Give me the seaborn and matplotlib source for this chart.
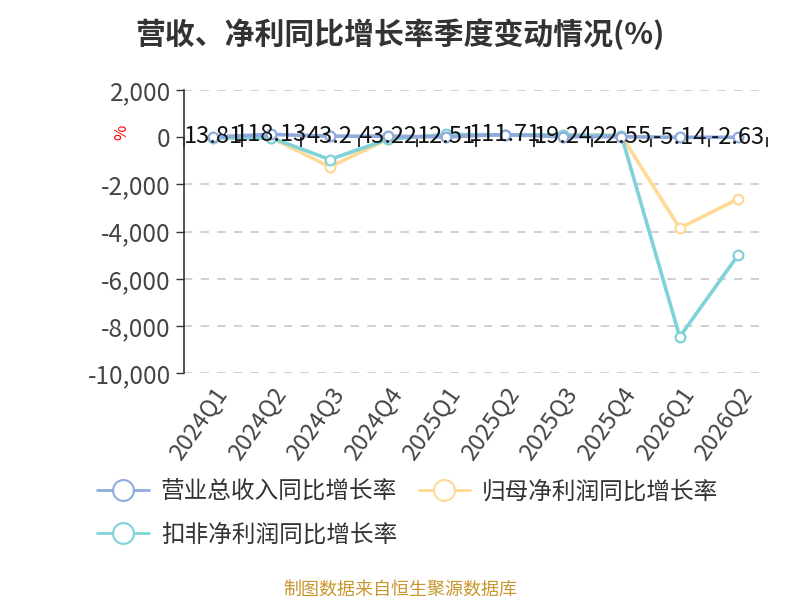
import numpy as np
import pandas as pd
import matplotlib
matplotlib.use('Agg')
import matplotlib.pyplot as plt
import seaborn as sns
from matplotlib.lines import Line2D

quarters = ['2024Q1', '2024Q2', '2024Q3', '2024Q4', '2025Q1', '2025Q2',
            '2025Q3', '2025Q4', '2026Q1', '2026Q2']
revenue_yoy = [13.81, 118.13, 43.2, 43.22, 12.51, 111.71, 19.24, 22.55, -5.14, -2.63]
net_profit_yoy = [-20, -30, -1258, -80, 110, 95, 100, 70, -3856, -2614]
deducted_profit_yoy = [-30, -30, -945, -85, 115, 100, 100, 70, -8460, -5000]

series_names = ['营业总收入同比增长率', '归母净利润同比增长率', '扣非净利润同比增长率']
series_colors = ['#8FAADC', '#FFD996', '#7FD3D8']

sns.set_theme(style='white')
plt.rcParams['font.family'] = ['Noto Sans CJK SC', 'DejaVu Sans']
plt.rcParams['axes.unicode_minus'] = False

fig = plt.figure(figsize=(8, 6), dpi=100)
ax = fig.add_axes([0.23, 0.378, 0.729, 0.472])

idx = np.arange(len(quarters))
# draw back to front: deducted, net, revenue
for name, vals, col, z in [(series_names[2], deducted_profit_yoy, series_colors[2], 3),
                           (series_names[1], net_profit_yoy, series_colors[1], 2),
                           (series_names[0], revenue_yoy, series_colors[0], 4)]:
    df = pd.DataFrame({'x': idx, 'y': vals})
    sns.lineplot(data=df, x='x', y='y', ax=ax, color=col, linewidth=2.6,
                 marker='o', markersize=7, markerfacecolor='white',
                 markeredgecolor=col, markeredgewidth=1.6, zorder=z, sort=False)

# revenue value labels (they overlap in the original too)
for i, v in enumerate(revenue_yoy):
    ax.text(i, v, f'{v:g}', ha='center', va='center', fontsize=17,
            color='#111111', zorder=6)

ax.set_xlim(-0.5, len(quarters) - 0.5)
ax.set_ylim(-10000, 2000)
yticks = np.arange(-10000, 2001, 2000)
ax.set_yticks(yticks)
ax.set_yticklabels([f'{t:,}' for t in yticks], fontsize=17.5, color='#444444')
for t in yticks:
    if t != 0:
        ax.axhline(t, color='#C8C8C8', linestyle=(0, (5, 5)), linewidth=1.2, zorder=0)

ax.set_xticks(idx)
ax.set_xticklabels(quarters, rotation=55, ha='right', rotation_mode='anchor',
                   fontsize=17, color='#444444')
ax.tick_params(axis='x', length=0, pad=7)
ax.tick_params(axis='y', length=6, width=1, color='#333333', direction='out', left=True)
ax.set_xlabel('')
ax.set_ylabel('')

for s in ['top', 'right', 'bottom']:
    ax.spines[s].set_visible(False)
ax.spines['left'].set_color('#333333')
ax.spines['left'].set_linewidth(1.2)

# zero axis line with category boundary ticks
zero_pos = (0 - ax.get_ylim()[0]) / (ax.get_ylim()[1] - ax.get_ylim()[0])
sec = ax.secondary_xaxis(zero_pos)
sec.set_xticks(np.arange(len(quarters) + 1) - 0.5)
sec.set_xticklabels([])
sec.tick_params(axis='x', direction='out', length=7, width=1.2, color='#111111')
sec.spines['bottom'].set_color('#111111')
sec.spines['bottom'].set_linewidth(1.2)
sec.spines['top'].set_visible(False)
sec.xaxis.set_ticks_position('bottom')

fig.text(0.152, 0.78, '%', color='red', fontsize=12, rotation=90, ha='center', va='center')

fig.suptitle('营收、净利同比增长率季度变动情况(%)', x=0.5, y=0.97, fontsize=21.5,
             fontweight='bold', color='#333333')

handles = [Line2D([0], [0], color=c, linewidth=2, marker='o', markersize=15,
                  markerfacecolor='white', markeredgecolor=c, markeredgewidth=1.5)
           for c in series_colors]
# matplotlib fills columns first; reorder so rows read revenue, net / deducted
order = [0, 2, 1]
fig.legend([handles[i] for i in order], [series_names[i] for i in order],
           loc='upper left', bbox_to_anchor=(0.095, 0.235),
           ncol=2, frameon=False, fontsize=17, handlelength=2.2, handletextpad=0.5,
           columnspacing=0.9, labelspacing=0.85, labelcolor='#333333')

fig.text(0.5, 0.018, '制图数据来自恒生聚源数据库', ha='center', va='center',
         fontsize=13, color='#C8962E')

fig.savefig('out.png', dpi=100)
